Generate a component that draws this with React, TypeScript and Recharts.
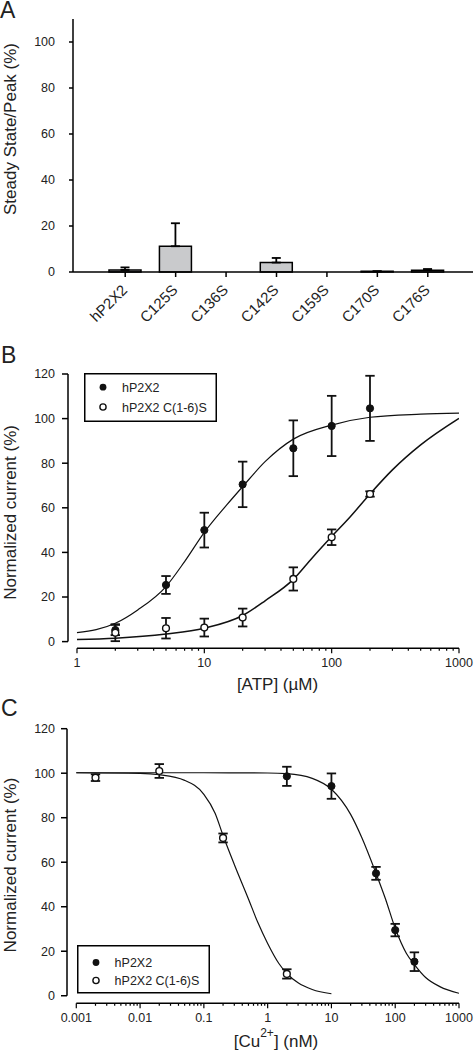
import React from 'react';
import {
  BarChart,
  Bar,
  ComposedChart,
  Line,
  Scatter,
  XAxis,
  YAxis,
  ErrorBar,
  ReferenceLine,
  Legend,
} from 'recharts';

const FONT = '"Liberation Sans", Arial, Helvetica, sans-serif';
const TEXT = '#222';
const INK = '#111';

// ---------- Panel A ----------
const mutantsA = ['hP2X2', 'C125S', 'C136S', 'C142S', 'C159S', 'C170S', 'C176S'];
const ratioA = [0.9, 11.2, 0, 4.1, 0, 0.3, 0.8];
const ratioErrA = [1.1, 10.0, 0, 2.0, 0, 0, 0.5];
const yTicksA = [0, 20, 40, 60, 80, 100];

// ---------- Panel B ----------
const atpConc = [2, 5, 10, 20, 50, 100, 200];
const atpWt = [5.2, 25.4, 50.0, 70.5, 86.7, 96.7, 104.6];
const atpWtErr = [2.3, 4.0, 7.8, 10.2, 12.5, 13.5, 14.6];
const atpMut = [4.0, 6.0, 6.3, 10.8, 28.1, 46.8, 66.2];
const atpMutErr = [3.8, 4.6, 4.0, 4.0, 5.2, 3.5, 1.2];
const atpFitWtX = [1, 2, 3, 5, 7, 10, 15, 20, 30, 50, 100, 200, 500, 1000];
const atpFitWtY = [4.0, 8.2, 14.2, 24.7, 35.9, 49.0, 61.3, 69.5, 80.7, 90.8, 97.1, 100.6, 102.0, 102.5];
const atpFitMutX = [1, 2, 5, 10, 20, 30, 50, 70, 100, 140, 200, 300, 500, 1000];
const atpFitMutY = [0.9, 1.5, 3.4, 6.0, 11.7, 18.3, 27.9, 37.4, 47.1, 56.0, 66.2, 77.0, 88.2, 100.1];
const xMajorB = [1, 10, 100, 1000];
const xDomainB: [number, number] = [0.85, 1000];
const yDomainB: [number, number] = [-3, 120];

// ---------- Panel C ----------
const cuWtConc = [2, 10, 50, 100, 200];
const cuWt = [98.6, 94.2, 55.0, 29.5, 15.3];
const cuWtErr = [4.3, 5.7, 2.9, 2.8, 4.2];
const cuMutConc = [0.002, 0.02, 0.2, 2];
const cuMut = [98.0, 101.0, 70.9, 9.8];
const cuMutErr = [1.5, 3.1, 2.0, 2.1];
const cuFitWtX = [0.001, 0.1, 1, 2, 5, 10, 20, 30, 50, 70, 100, 150, 200, 300, 500, 1000];
const cuFitWtY = [100.2, 100.2, 100.1, 99.8, 97.7, 92.8, 81.5, 71.0, 55.0, 43.7, 30.3, 19.0, 14.0, 8.2, 4.1, 1.1];
const cuFitMutX = [0.001, 0.01, 0.02, 0.05, 0.1, 0.15, 0.2, 0.3, 0.5, 0.7, 1, 1.5, 2, 3, 5, 10];
const cuFitMutY = [100.2, 99.9, 99.3, 96.8, 90.5, 82.0, 72.0, 59.0, 43.5, 33.0, 23.5, 14.5, 10.0, 5.8, 2.8, 0.9];
const xMajorC = [0.001, 0.01, 0.1, 1, 10, 100, 1000];
const xDomainC: [number, number] = [0.000715, 1000];
const yDomainC: [number, number] = [-3.4, 120];

const yTicksBC = [0, 20, 40, 60, 80, 100, 120];
const minorMultipliers = [2, 3, 4, 5, 6, 7, 8, 9];
const legendNames = ['hP2X2', 'hP2X2 C(1-6)S'];

const minorTicks = (majors: number[]) =>
  majors
    .slice(0, -1)
    .flatMap((d) => minorMultipliers.map((m) => Number((d * m).toPrecision(6))));

const xTicksB = [...xMajorB, ...minorTicks(xMajorB)].sort((a, b) => a - b);
const xTicksC = [...xMajorC, ...minorTicks(xMajorC)].sort((a, b) => a - b);

const dataA = mutantsA.map((name, i) => ({ name, value: ratioA[i], err: [0, ratioErrA[i]] }));
const toPts = (xs: number[], ys: number[], es?: number[]) =>
  xs.map((x, i) => (es ? { x, y: ys[i], e: es[i] } : { x, y: ys[i] }));

const ptsBWt = toPts(atpConc, atpWt, atpWtErr);
const ptsBMut = toPts(atpConc, atpMut, atpMutErr);
const fitBWt = toPts(atpFitWtX, atpFitWtY);
const fitBMut = toPts(atpFitMutX, atpFitMutY);
const ptsCWt = toPts(cuWtConc, cuWt, cuWtErr);
const ptsCMut = toPts(cuMutConc, cuMut, cuMutErr);
const fitCWt = toPts(cuFitWtX, cuFitWtY);
const fitCMut = toPts(cuFitMutX, cuFitMutY);

// ---------- helpers ----------
const yTitle = (text: string, dy: number) => (props: any) => {
  const vb = props.viewBox || {};
  const cy = (vb.y || 0) + (vb.height || 0) / 2 + dy;
  return (
    <text
      transform={`translate(16,${cy}) rotate(-90)`}
      textAnchor="middle"
      fontSize={17}
      fontFamily={FONT}
      fill={TEXT}
    >
      {text}
    </text>
  );
};

const RotTick = (props: any) => {
  const { x, y, payload } = props;
  return (
    <g transform={`translate(${x + 3},${y + 12})`}>
      <text transform="rotate(-45)" textAnchor="end" fontSize={15} fontFamily={FONT} fill={TEXT}>
        {payload.value}
      </text>
    </g>
  );
};

const makeLogTick = (majors: number[]) => (props: any) => {
  const { x, y, payload } = props;
  const v = payload.value;
  const isMajor = majors.some((m) => Math.abs(m - v) < m * 1e-6);
  return (
    <g>
      <line x1={x} y1={y} x2={x} y2={y + (isMajor ? 5 : 2.5)} stroke="#000" strokeWidth={1.2} />
      {isMajor && (
        <text x={x} y={y + 19} textAnchor="middle" fontSize={12.5} fontFamily={FONT} fill={TEXT}>
          {String(v)}
        </text>
      )}
    </g>
  );
};

const FilledDot = (p: any) => <circle cx={p.cx} cy={p.cy} r={3.6} fill={INK} stroke={INK} strokeWidth={1} />;
const OpenDot = (p: any) => <circle cx={p.cx} cy={p.cy} r={3.4} fill="#fff" stroke={INK} strokeWidth={1.4} />;

const LegendBox = ({ w, h, rows, cx, tx }: { w: number; h: number; rows: number[]; cx: number; tx: number }) => (
  <svg width={w} height={h} style={{ display: 'block' }}>
    <rect x={0.75} y={0.75} width={w - 1.5} height={h - 1.5} fill="#fff" stroke="#000" strokeWidth={1.5} />
    <circle cx={cx} cy={rows[0]} r={3.4} fill={INK} />
    <text x={tx} y={rows[0] + 4.5} fontSize={12.5} fontFamily={FONT} fill={TEXT}>
      {legendNames[0]}
    </text>
    <circle cx={cx} cy={rows[1]} r={3.1} fill="#fff" stroke={INK} strokeWidth={1.4} />
    <text x={tx} y={rows[1] + 4.5} fontSize={12.5} fontFamily={FONT} fill={TEXT}>
      {legendNames[1]}
    </text>
  </svg>
);

const axisStroke = { stroke: '#000', strokeWidth: 1.5 };
const tickStyle = { fontSize: 12.5, fill: TEXT, fontFamily: FONT };

const PanelA = () => (
  <BarChart width={475} height={330} data={dataA} margin={{ top: 19, right: 2, left: 0, bottom: 0 }}>
    <XAxis
      dataKey="name"
      height={58}
      padding={{ left: 27, right: 20 }}
      axisLine={axisStroke}
      tickLine={axisStroke}
      tickSize={5}
      interval={0}
      tick={<RotTick />}
    />
    <YAxis
      width={73}
      domain={[0, 110]}
      ticks={yTicksA}
      interval={0}
      axisLine={axisStroke}
      tickLine={axisStroke}
      tickSize={4}
      tickMargin={14}
      tick={tickStyle}
      label={yTitle('Steady State/Peak (%)', -16.5)}
    />
    <Bar dataKey="value" fill="#c9cacc" stroke="#000" strokeWidth={1.5} barSize={32} isAnimationActive={false}>
      <ErrorBar dataKey="err" width={4.5} stroke="#000" strokeWidth={1.8} direction="y" />
    </Bar>
  </BarChart>
);

const xTitleB = (props: any) => {
  const vb = props.viewBox || {};
  return (
    <text x={vb.x + vb.width / 2 + 14} y={vb.y + 41.4} textAnchor="middle" fontSize={17} fontFamily={FONT} fill={TEXT}>
      [ATP] (µM)
    </text>
  );
};

const xTitleC = (props: any) => {
  const vb = props.viewBox || {};
  return (
    <text x={vb.x + vb.width / 2 + 13} y={vb.y + 43.7} textAnchor="middle" fontSize={17} fontFamily={FONT} fill={TEXT}>
      <tspan>[Cu</tspan>
      <tspan dy={-10} fontSize={12}>2+</tspan>
      <tspan dy={10}>] (nM)</tspan>
    </text>
  );
};

const PanelB = () => (
  <ComposedChart width={475} height={370} margin={{ top: 44, right: 16, left: 0, bottom: 0 }}>
    <XAxis
      type="number"
      dataKey="x"
      scale="log"
      domain={xDomainB}
      allowDataOverflow
      ticks={xTicksB}
      interval={0}
      height={51.7}
      axisLine={false}
      tickLine={false}
      tickSize={0}
      tickMargin={0}
      tick={makeLogTick(xMajorB)}
      label={xTitleB}
    />
    <YAxis
      type="number"
      width={68}
      domain={yDomainB}
      allowDataOverflow
      ticks={yTicksBC}
      interval={0}
      axisLine={false}
      tickLine={axisStroke}
      tickSize={6}
      tickMargin={7}
      tick={tickStyle}
      label={yTitle('Normalized current (%)', 1.3)}
    />
    <ReferenceLine segment={[{ x: xDomainB[0], y: 0 }, { x: xDomainB[0], y: 120 }]} stroke="#000" strokeWidth={1.5} ifOverflow="visible" />
    <ReferenceLine segment={[{ x: 1, y: yDomainB[0] }, { x: 1000, y: yDomainB[0] }]} stroke="#000" strokeWidth={1.5} ifOverflow="visible" />
    <Line data={fitBWt} dataKey="y" type="monotone" stroke={INK} strokeWidth={1.2} dot={false} activeDot={false} isAnimationActive={false} />
    <Line data={fitBMut} dataKey="y" type="monotone" stroke={INK} strokeWidth={1.5} dot={false} activeDot={false} isAnimationActive={false} />
    <Scatter data={ptsBWt} dataKey="y" shape={FilledDot} isAnimationActive={false}>
      <ErrorBar dataKey="e" direction="y" width={4.7} stroke={INK} strokeWidth={1.8} />
    </Scatter>
    <Scatter data={ptsBMut} dataKey="y" shape={OpenDot} isAnimationActive={false}>
      <ErrorBar dataKey="e" direction="y" width={4.7} stroke={INK} strokeWidth={1.8} />
    </Scatter>
    <Legend
      verticalAlign="middle"
      align="center"
      layout="horizontal"
      wrapperStyle={{ left: 84, top: 43.3, width: 133, height: 49, lineHeight: 0 }}
      content={() => <LegendBox w={133} h={49} rows={[14.2, 34]} cx={19} tx={38} />}
    />
  </ComposedChart>
);

const PanelC = () => (
  <ComposedChart width={475} height={360} margin={{ top: 38.7, right: 16, left: 0, bottom: 0 }}>
    <XAxis
      type="number"
      dataKey="x"
      scale="log"
      domain={xDomainC}
      allowDataOverflow
      ticks={xTicksC}
      interval={0}
      height={46.7}
      axisLine={false}
      tickLine={false}
      tickSize={0}
      tickMargin={0}
      tick={makeLogTick(xMajorC)}
      label={xTitleC}
    />
    <YAxis
      type="number"
      width={67}
      domain={yDomainC}
      allowDataOverflow
      ticks={yTicksBC}
      interval={0}
      axisLine={false}
      tickLine={axisStroke}
      tickSize={6}
      tickMargin={6}
      tick={tickStyle}
      label={yTitle('Normalized current (%)', -1)}
    />
    <ReferenceLine segment={[{ x: xDomainC[0], y: 0 }, { x: xDomainC[0], y: 120 }]} stroke="#000" strokeWidth={1.5} ifOverflow="visible" />
    <ReferenceLine segment={[{ x: 0.001, y: yDomainC[0] }, { x: 1000, y: yDomainC[0] }]} stroke="#000" strokeWidth={1.5} ifOverflow="visible" />
    <Line data={fitCWt} dataKey="y" type="monotone" stroke={INK} strokeWidth={1.2} dot={false} activeDot={false} isAnimationActive={false} />
    <Line data={fitCMut} dataKey="y" type="monotone" stroke={INK} strokeWidth={1.2} dot={false} activeDot={false} isAnimationActive={false} />
    <Scatter data={ptsCWt} dataKey="y" shape={FilledDot} isAnimationActive={false}>
      <ErrorBar dataKey="e" direction="y" width={4.7} stroke={INK} strokeWidth={1.8} />
    </Scatter>
    <Scatter data={ptsCMut} dataKey="y" shape={OpenDot} isAnimationActive={false}>
      <ErrorBar dataKey="e" direction="y" width={4.7} stroke={INK} strokeWidth={1.8} />
    </Scatter>
    <Legend
      verticalAlign="middle"
      align="center"
      layout="horizontal"
      wrapperStyle={{ left: 76.7, top: 255.3, width: 133, height: 48.5, lineHeight: 0 }}
      content={() => <LegendBox w={133} h={48.5} rows={[17.5, 35.5]} cx={19} tx={37.6} />}
    />
  </ComposedChart>
);

export default function App() {
  return (
    <div style={{ position: 'absolute', left: 0, top: 0, width: 475, height: 1050, background: '#fff', overflow: 'hidden' }}>
      <div style={{ position: 'absolute', left: 0, top: 0 }}>
        <PanelA />
      </div>
      <div style={{ position: 'absolute', left: 0, top: 330 }}>
        <PanelB />
      </div>
      <div style={{ position: 'absolute', left: 0, top: 690 }}>
        <PanelC />
      </div>
      <svg
        width={475}
        height={1050}
        style={{ position: 'absolute', left: 0, top: 0, pointerEvents: 'none' }}
      >
        <text x={0} y={18} fontSize={23} fontFamily={FONT} fill={TEXT}>A</text>
        <text x={1} y={363.3} fontSize={23} fontFamily={FONT} fill={TEXT}>B</text>
        <text x={1} y={716} fontSize={23} fontFamily={FONT} fill={TEXT}>C</text>
      </svg>
    </div>
  );
}
